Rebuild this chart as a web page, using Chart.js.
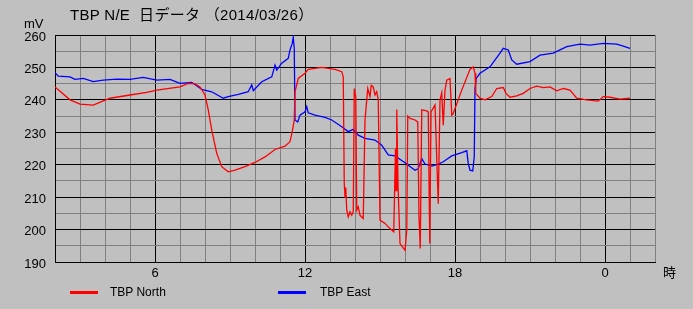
<!DOCTYPE html>
<html>
<head>
<meta charset="utf-8">
<script src="https://cdn.jsdelivr.net/npm/chart.js@4/dist/chart.umd.min.js"></script>
<style>
  body { margin: 0; background: #c0c0c0; }
  #wrap { position: relative; width: 693px; height: 309px; background: #c0c0c0; overflow: hidden;
          font-family: "Liberation Sans", Arial, "Noto Sans CJK JP", sans-serif; color: #000; }
  #wrap canvas { position: absolute; left: 0; top: 0; }
  .txt { position: absolute; white-space: pre; line-height: 16px; }
  .key { position: absolute; height: 3px; }
</style>
</head>
<body>
<div id="wrap">
  <canvas id="chart" width="693" height="309"></canvas>
  <div class="txt" style="left:70px;top:7px;font-size:15px;letter-spacing:0.3px;">TBP N/E  日データ （2014/03/26）</div>
  <div class="txt" style="left:24px;top:16px;font-size:13px;">mV</div>
  <div class="txt" style="left:663px;top:264px;font-size:13px;font-family:'Noto Sans CJK JP',sans-serif;">時</div>
  <div class="key" style="left:70px;top:291px;width:28px;background:#ff0000;"></div>
  <div class="txt" style="left:110px;top:284px;font-size:12px;">TBP North</div>
  <div class="key" style="left:278px;top:291px;width:28px;background:#0000ff;"></div>
  <div class="txt" style="left:320px;top:284px;font-size:12px;">TBP East</div>
</div>
<script>
// time of day in hours (24+ = next day), values in mV
const northTime = [2.00, 2.60, 3.00, 3.53, 3.93, 4.20, 5.00, 5.67, 6.07, 7.00, 7.33, 7.60, 7.80, 8.00, 8.13, 8.27,
  8.47, 8.67, 8.93, 9.20, 9.60, 10.00, 10.40, 10.80, 11.20, 11.40, 11.49, 11.57, 11.60, 11.73, 12.00, 12.13,
  12.67, 13.20, 13.47, 13.53, 13.57, 13.60, 13.63, 13.67, 13.73, 13.80, 13.87, 13.93, 13.97, 14.03, 14.07,
  14.13, 14.20, 14.33, 14.40, 14.51, 14.60, 14.65, 14.73, 14.80, 14.87, 14.93, 15.00, 15.20, 15.40, 15.55,
  15.62, 15.64, 15.67, 15.72, 15.80, 16.00, 16.07, 16.11, 16.20, 16.40, 16.51, 16.56, 16.61, 16.67, 16.87,
  16.93, 16.99, 17.04, 17.20, 17.33, 17.40, 17.47, 17.53, 17.60, 17.67, 17.80, 17.87, 17.93, 18.27, 18.60,
  18.73, 18.80, 18.83, 19.00, 19.20, 19.47, 19.67, 19.93, 20.04, 20.20, 20.47, 20.73, 21.00, 21.27, 21.53,
  21.80, 22.07, 22.33, 22.60, 22.87, 23.27, 23.73, 23.93, 24.20, 24.60, 25.00];
const northMv = [244.0, 240.0, 238.7, 238.4, 239.7, 240.5, 241.5, 242.3, 243.0, 244.0, 245.1, 244.9, 244.0, 241.5, 236.9, 230.7,
  223.5, 219.4, 217.8, 218.3, 219.4, 220.7, 222.4, 224.7, 225.7, 227.1, 230.2, 233.8, 242.5, 246.6, 248.2, 249.4,
  250.0, 249.4, 248.7, 247.1, 214.2, 210.0, 213.0, 206.0, 203.9, 205.5, 204.4, 205.5, 243.5, 241.0, 206.0,
  207.0, 204.4, 203.4, 233.8, 243.5, 241.0, 244.5, 244.0, 241.5, 242.5, 240.0, 202.9, 201.9, 200.3, 199.3,
  225.0, 212.0, 237.0, 214.0, 195.7, 193.6, 199.8, 235.0, 234.3, 233.8, 233.2, 203.9, 194.2, 236.9, 236.6,
  236.3, 195.7, 236.3, 238.4, 208.0, 240.0, 242.2, 232.2, 243.0, 246.1, 246.6, 235.3, 235.8, 243.0, 249.4,
  250.2, 248.2, 242.0, 240.5, 240.0, 241.0, 243.5, 243.8, 242.0, 240.8, 241.2, 242.0, 243.5, 244.2, 243.8,
  244.0, 242.8, 243.5, 243.0, 240.5, 240.0, 239.6, 241.0, 240.8, 240.2, 240.5];

const eastTime = [2.00, 2.13, 2.60, 2.80, 3.13, 3.53, 3.93, 4.47, 5.00, 5.53, 6.07, 6.60, 7.00, 7.47, 7.87, 8.27,
  8.73, 8.93, 9.33, 9.73, 9.87, 9.93, 10.27, 10.67, 10.80, 10.87, 11.07, 11.33, 11.40, 11.49, 11.53, 11.57,
  11.60, 11.71, 11.80, 12.00, 12.07, 12.13, 12.40, 12.80, 13.07, 13.47, 13.73, 13.93, 14.13, 14.40, 14.80,
  15.07, 15.33, 15.60, 16.00, 16.40, 16.53, 16.67, 16.80, 17.07, 17.33, 17.53, 17.87, 18.27, 18.47, 18.53,
  18.60, 18.71, 18.77, 18.80, 18.85, 19.00, 19.40, 19.80, 19.93, 20.13, 20.27, 20.47, 21.00, 21.40, 21.93,
  22.47, 23.00, 23.40, 23.93, 24.47, 24.73, 25.00];
const eastMv = [248.4, 247.3, 247.1, 246.3, 246.6, 245.6, 246.1, 246.4, 246.3, 246.9, 246.1, 246.3, 245.1, 245.4, 243.2, 242.5,
  240.5, 241.0, 241.7, 242.5, 244.6, 242.8, 245.6, 247.1, 250.7, 249.2, 251.3, 252.8, 255.4, 257.4, 259.3, 255.9,
  233.8, 233.2, 235.3, 236.3, 237.9, 236.0, 235.3, 234.6, 233.8, 231.7, 230.2, 230.9, 229.1, 228.1, 227.6,
  226.0, 223.0, 222.7, 220.6, 218.3, 218.8, 221.9, 220.2, 219.6, 220.2, 220.9, 222.7, 223.7, 224.3, 220.4,
  218.3, 218.1, 222.4, 243.5, 246.6, 248.2, 250.2, 254.4, 255.9, 255.4, 252.3, 251.0, 251.8, 253.8, 254.4,
  256.4, 257.2, 256.9, 257.4, 257.2, 256.6, 255.9];

const xMin = 2, xMax = 26;
const yMin = 190, yMax = 260;

function toPoints(xs, ys) {
  return xs.map((x, i) => ({ x: x, y: ys[i] }));
}

new Chart(document.getElementById('chart'), {
  type: 'line',
  data: {
    datasets: [
      { label: 'TBP North', data: toPoints(northTime, northMv), borderColor: '#ff0000', borderWidth: 1.3,
        pointRadius: 0, tension: 0, fill: false },
      { label: 'TBP East', data: toPoints(eastTime, eastMv), borderColor: '#0000ff', borderWidth: 1.3,
        pointRadius: 0, tension: 0, fill: false },
    ],
  },
  options: {
    responsive: false,
    animation: false,
    events: [],
    layout: { padding: { left: 0, top: 35, right: 38, bottom: 0 } },
    plugins: { legend: { display: false }, tooltip: { enabled: false } },
    scales: {
      x: {
        type: 'linear', min: xMin, max: xMax,
        afterFit: (s) => { s.height = 47; },
        border: { color: '#000', width: 1 },
        grid: {
          drawTicks: false,
          lineWidth: 1,
          color: (c) => (c.tick && c.tick.value % 6 === 0) ? '#000' : '#808080',
        },
        ticks: {
          stepSize: 1, autoSkip: false, maxRotation: 0, padding: 4,
          color: '#000', font: { family: 'Liberation Sans, Arial, sans-serif', size: 13 },
          callback: (v) => v % 6 === 0 ? String(v % 24) : '',
        },
      },
      y: {
        min: yMin, max: yMax,
        afterFit: (s) => { s.width = 55; },
        border: { color: '#000', width: 1 },
        grid: {
          drawTicks: false,
          lineWidth: 1,
          color: (c) => (c.tick && c.tick.value % 10 === 0) ? '#000' : '#808080',
        },
        ticks: {
          stepSize: 5, autoSkip: false, padding: 9, labelOffset: 2,
          color: '#000', font: { family: 'Liberation Sans, Arial, sans-serif', size: 13 },
          callback: (v) => v % 10 === 0 ? String(v) : '',
        },
      },
    },
  },
});
</script>
</body>
</html>
